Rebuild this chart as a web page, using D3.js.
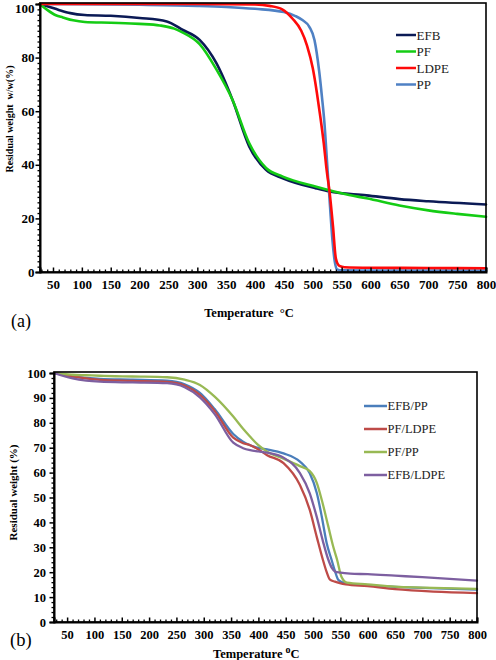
<!DOCTYPE html>
<html><head><meta charset="utf-8">
<script src="https://cdn.jsdelivr.net/npm/d3@7"></script>
<style>body{margin:0;background:#fff}svg{display:block}</style>
</head><body>
<svg id="c" width="496" height="660"></svg>
<script>
// ---------- data ----------
const tempTicks = [50,100,150,200,250,300,350,400,450,500,550,600,650,700,750,800];
const topWeightTicks = [0,20,40,60,80,100];
const botWeightTicks = [0,10,20,30,40,50,60,70,80,90,100];

// (a) raw materials
const topNames = ["EFB","PF","LDPE","PP"];
const efbT = [27,40,60,80,105,150,200,247,275,304,333,361,390,419,448,506,529,593,650,700,800];
const efbW = [100,99.2,97.8,96.6,95.9,95.6,94.8,93.5,90.3,86.6,77.9,64.2,46.8,38.1,35.0,31.2,30.0,28.6,27.2,26.4,25.2];
const pfT = [27,40,55,67,85,105,150,200,235,260,275,304,333,361,390,419,448,506,563,593,650,700,750,800];
const pfW = [100,97.8,95.8,95.0,93.9,93.3,93.0,92.6,92.0,90.8,89.3,85.0,75.6,64.2,48.0,38.8,35.6,31.8,28.7,27.5,24.8,23.0,21.7,20.6];
const ldpeT = [27,150,300,400,425,447,465,480,490,500,507,513,519,524,529,535,540,546,555,600,700,800];
const ldpeW = [100,100,100,99.8,99.3,98.0,94.5,90,84.5,76,67,58,48,38,30,17,5,2.3,1.8,1.6,1.5,1.4];
const ppT = [27,100,200,300,350,400,450,470,482,494,503,511,516,520,525,530,534,538,542,550,600,800];
const ppW = [100,99.9,99.7,99.3,98.9,98.2,97.0,95.5,94,91.5,86.5,75,65,56,40,24,12,4,1,0.6,0.5,0.5];

// (b) blends
const botNames = ["EFB/PP","PF/LDPE","PF/PP","EFB/LDPE"];
const efbppT = [26,40,60,85,110,170,233,265,293,320,354,372,385,400,416,446,476,494,507,516,525,534,540,546,554,562,600,650,700,800];
const efbppW = [100,99.3,98.6,98.0,97.6,97.3,96.9,95.5,92.0,85.5,75.5,72.4,71.0,69.9,69.3,67.7,64.4,59.7,51.7,42.3,31.6,24.9,20.5,17.0,15.9,15.4,14.7,14.1,13.7,13.0];
const pfldpeT = [26,40,60,85,110,170,233,265,293,320,354,372,385,400,416,446,476,494,507,518,525,531,540,549,560,600,650,720,800];
const pfldpeW = [100,99.4,98.6,97.8,97.2,96.8,96.4,95.0,91.2,84.8,74.0,71.8,71.0,69.3,67.0,63.8,55.0,45.0,34.0,25.0,20.0,17.0,16.2,15.6,15.1,14.4,13.2,12.2,11.6];
const pfppT = [26,40,60,85,110,170,233,265,293,320,354,372,385,400,416,446,476,494,507,516,528,537,544,552,562,600,650,700,800];
const pfppW = [100,99.6,99.3,99.1,98.9,98.6,98.3,97.3,95.2,90.5,82.5,77.6,74.4,71.0,68.4,65.6,62.6,60.6,55.8,49.0,38.3,30.2,25.0,18.2,15.8,15.1,14.2,13.8,13.3];
const efbldpeT = [26,40,60,85,110,170,233,265,293,320,354,372,385,400,416,446,476,494,507,518,528,535,540,550,568,600,650,700,800];
const efbldpeW = [100,99.0,97.8,96.9,96.5,96.2,95.9,94.3,90.2,83.5,72.0,69.8,69.0,68.5,68.0,66.0,59.8,51.7,42.0,32.5,25.0,21.5,20.3,19.8,19.4,19.2,18.6,18.0,16.6];

// ---------- drawing ----------
const svg = d3.select("#c");
const serif = "'Liberation Serif','Times New Roman',serif";

function panel(cfg) {
  const x = d3.scaleLinear().domain(cfg.xDomain).range([cfg.left, cfg.right]);
  const y = d3.scaleLinear().domain([0,100]).range([cfg.bottom, cfg.y100]);
  const g = svg.append("g");

  const line = d3.line().x(d => x(d[0])).y(d => y(d[1])).curve(d3.curveMonotoneX);
  cfg.order.forEach(i => {
    const s = cfg.series[i];
    g.append("path").datum(d3.zip(s.t, s.w))
      .attr("d", line).attr("fill","none")
      .attr("stroke", s.color).attr("stroke-width", cfg.lw)
      .attr("stroke-linejoin","round").attr("stroke-linecap","round");
  });

  // frame
  g.append("rect").attr("x", cfg.left).attr("y", cfg.top)
    .attr("width", cfg.right - cfg.left).attr("height", cfg.bottom - cfg.top)
    .attr("fill","none").attr("stroke","#000").attr("stroke-width", 1.6);

  // minor x ticks
  const minorX = d3.range(30, 801, 10).filter(v => v % 50 !== 0);
  g.append("g").attr("transform", `translate(0,${cfg.bottom})`)
    .call(d3.axisBottom(x).tickValues(minorX).tickSize(-2.5).tickFormat(""))
    .call(a => a.select(".domain").remove())
    .selectAll("line").attr("stroke","#000").attr("stroke-width",1.3);
  // major x
  const ax = g.append("g").attr("transform", `translate(0,${cfg.bottom})`)
    .call(d3.axisBottom(x).tickValues(tempTicks).tickSize(-4.5).tickPadding(cfg.xPad));
  ax.select(".domain").attr("stroke","#000").attr("stroke-width",2);
  ax.selectAll("line").attr("stroke","#000").attr("stroke-width",1.5);
  ax.selectAll("text").attr("font-family", serif).attr("font-weight","bold")
    .attr("font-size", cfg.fs).attr("fill","#000");

  // minor y
  const minorY = d3.range(2, 100, 2).filter(v => !cfg.yTicks.includes(v));
  g.append("g").attr("transform", `translate(${cfg.left},0)`)
    .call(d3.axisLeft(y).tickValues(minorY).tickSize(2.5).tickFormat(""))
    .call(a => a.select(".domain").remove())
    .selectAll("line").attr("stroke","#000").attr("stroke-width",1.3);
  const ay = g.append("g").attr("transform", `translate(${cfg.left},0)`)
    .call(d3.axisLeft(y).tickValues(cfg.yTicks).tickSize(4.5).tickPadding(cfg.yPad));
  ay.select(".domain").attr("stroke","#000").attr("stroke-width",2);
  ay.selectAll("line").attr("stroke","#000").attr("stroke-width",1.5);
  ay.selectAll("text").attr("font-family", serif).attr("font-weight","bold")
    .attr("font-size", cfg.yfs).attr("fill","#000")
    .filter(d => y(d) < 8).attr("dy", cfg.topDy);

  // legend
  cfg.series.forEach((s, i) => {
    const ly = cfg.legY + i * cfg.legDy;
    g.append("line").attr("x1", cfg.legX).attr("x2", cfg.legX + cfg.legW)
      .attr("y1", ly).attr("y2", ly).attr("stroke", s.color).attr("stroke-width", 2.5);
    g.append("text").attr("x", cfg.legX + cfg.legW + 0.5).attr("y", ly).attr("dy","0.35em")
      .attr("font-family", serif).attr("font-size", cfg.legFs).attr("fill","#222").text(s.name);
  });
  return g;
}

const topColors = ["#0b1a55","#14cc14","#ff0a0a","#4f81c4"];
const topData = [[efbT,efbW],[pfT,pfW],[ldpeT,ldpeW],[ppT,ppW]];
panel({
  xDomain:[27.5,800], left:40, right:486, top:3, bottom:272, y100:4,
  series: topNames.map((n,i)=>({name:n, t:topData[i][0], w:topData[i][1], color:topColors[i]})),
  order:[0,3,1,2], lw:2.6, yTicks: topWeightTicks,
  xPad:8, yPad:1, fs:13, yfs:13, topDy:"0.62em",
  legX:396, legW:20, legY:35, legDy:16.5, legFs:13
});

const botColors = ["#4a7ebb","#be4b48","#98b954","#7d5fa0"];
const botData = [[efbppT,efbppW],[pfldpeT,pfldpeW],[pfppT,pfppW],[efbldpeT,efbldpeW]];
panel({
  xDomain:[26,800], left:54, right:477, top:372, bottom:622, y100:373,
  series: botNames.map((n,i)=>({name:n, t:botData[i][0], w:botData[i][1], color:botColors[i]})),
  order:[0,1,2,3], lw:2.3, yTicks: botWeightTicks,
  xPad:8.5, yPad:3.5, fs:12.5, yfs:12.5, topDy:"0.32em",
  legX:364, legW:23, legY:406, legDy:23, legFs:12.5
});

// axis titles & panel labels
svg.append("text").attr("x",249).attr("y",316.5).attr("text-anchor","middle")
  .attr("font-family",serif).attr("font-weight","bold").attr("font-size",12.5)
  .attr("xml:space","preserve").text("Temperature  °C");
svg.append("text").attr("transform","translate(12.5,119) rotate(-90)").attr("text-anchor","middle")
  .attr("font-family",serif).attr("font-weight","bold").attr("font-size",10)
  .attr("xml:space","preserve").text("Residual weight  w/w(%)");
svg.append("text").attr("x",11).attr("y",327).attr("font-family",serif).attr("font-size",18).text("(a)");

const bt = svg.append("text").attr("x",213).attr("y",657.5)
  .attr("font-family",serif).attr("font-weight","bold").attr("font-size",12.5);
bt.append("tspan").text("Temperature ");
bt.append("tspan").attr("dy",-5).attr("font-size",10).text("o");
bt.append("tspan").attr("dy",5).text("C");
svg.append("text").attr("transform","translate(17,492.5) rotate(-90)").attr("text-anchor","middle")
  .attr("font-family",serif).attr("font-weight","bold").attr("font-size",11).text("Residual weight (%)");
svg.append("text").attr("x",10).attr("y",646).attr("font-family",serif).attr("font-size",18.5).text("(b)");
</script>
</body></html>
